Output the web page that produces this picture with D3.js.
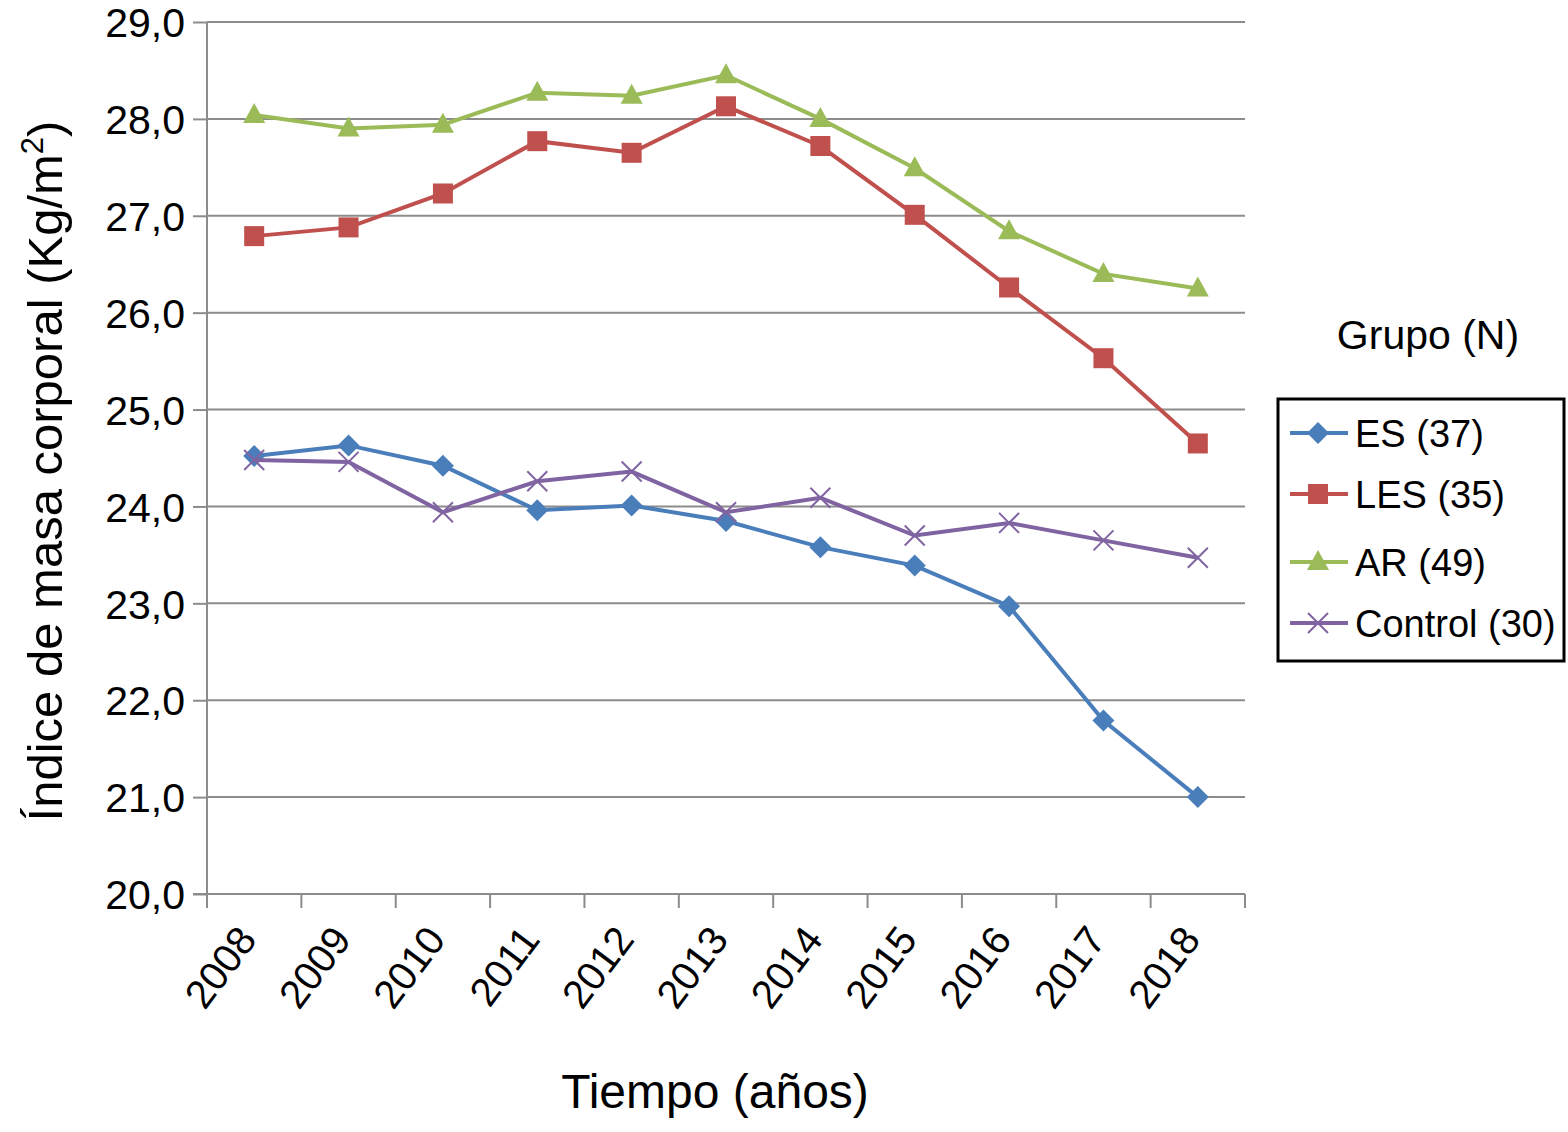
<!DOCTYPE html>
<html lang="es">
<head>
<meta charset="UTF-8">
<title>Índice de masa corporal</title>
<script src="https://d3js.org/d3.v7.min.js"></script>
<style>
    body { margin: 0; background: #fff; }
    svg { font-family: "Liberation Sans", Arial, sans-serif; }
</style>
</head>
<body>
<div id="chart"></div>
<script>
// datos
var years = ["2008", "2009", "2010", "2011", "2012", "2013", "2014", "2015", "2016", "2017", "2018"];
var es      = [24.52, 24.63, 24.42, 23.96, 24.01, 23.85, 23.58, 23.39, 22.97, 21.79, 21.00];
var les     = [26.79, 26.88, 27.23, 27.77, 27.65, 28.13, 27.72, 27.01, 26.26, 25.53, 24.65];
var ar      = [28.04, 27.90, 27.94, 28.27, 28.24, 28.45, 28.00, 27.49, 26.84, 26.40, 26.25];
var control = [24.48, 24.46, 23.94, 24.26, 24.36, 23.94, 24.09, 23.70, 23.83, 23.65, 23.47];
var yTicks = [20, 21, 22, 23, 24, 25, 26, 27, 28, 29];

var series = [
    { name: "ES (37)", values: es, color: "#4a7ebb", marker: "diamond" },
    { name: "LES (35)", values: les, color: "#c0504d", marker: "square" },
    { name: "AR (49)", values: ar, color: "#9bbb59", marker: "triangle" },
    { name: "Control (30)", values: control, color: "#8064a2", marker: "cross" }
];

var width = 1568, height = 1132;
var plotLeft = 207, plotRight = 1245, plotTop = 22, plotBottom = 894;

var svg = d3.select("#chart").append("svg")
    .attr("width", width)
    .attr("height", height);

var x = d3.scaleBand().domain(years).range([plotLeft, plotRight]);
var y = d3.scaleLinear().domain([20, 29]).range([plotBottom, plotTop]);

// rejilla
svg.append("g")
    .selectAll("line")
    .data(yTicks.slice(1))
    .enter()
    .append("line")
    .attr("x1", plotLeft)
    .attr("x2", plotRight)
    .attr("y1", function(d) { return y(d); })
    .attr("y2", function(d) { return y(d); })
    .attr("stroke", "#8c8c8c")
    .attr("stroke-width", 2);

// eje y
var yAxis = svg.append("g")
    .attr("transform", "translate(" + plotLeft + ",0)")
    .call(d3.axisLeft(y).tickValues(yTicks).tickSize(14).tickPadding(8)
        .tickFormat(function(d) { return d3.format(".1f")(d).replace(".", ","); }));
yAxis.selectAll("line, path").attr("stroke", "#8c8c8c").attr("stroke-width", 2);
yAxis.select(".domain").attr("d", "M0," + plotTop + "V" + plotBottom);
yAxis.selectAll("text").attr("font-size", 41).attr("fill", "#000")
    .attr("font-family", "Liberation Sans, Arial, sans-serif")
    .attr("dy", "0.36em");

// eje x
var xAxis = svg.append("g")
    .attr("transform", "translate(0," + plotBottom + ")")
    .call(d3.axisBottom(x).tickSize(0).tickPadding(0));
xAxis.select(".domain").attr("stroke", "#8c8c8c").attr("stroke-width", 2)
    .attr("d", "M" + (plotLeft - 14) + ",0H" + plotRight);
xAxis.selectAll(".tick line").remove();
xAxis.selectAll(".tick text")
    .attr("font-size", 40)
    .attr("fill", "#000")
    .attr("font-family", "Liberation Sans, Arial, sans-serif")
    .attr("text-anchor", "end")
    .attr("y", 0)
    .attr("dy", 0)
    .attr("transform", "translate(4,46) rotate(-53)");

// marcas de separación de categorías
var bounds = years.map(function(d) { return x(d); }).concat([plotRight]);
svg.append("g")
    .selectAll("line")
    .data(bounds)
    .enter()
    .append("line")
    .attr("x1", function(d) { return d; })
    .attr("x2", function(d) { return d; })
    .attr("y1", plotBottom)
    .attr("y2", plotBottom + 14)
    .attr("stroke", "#8c8c8c")
    .attr("stroke-width", 2);

function drawMarker(g, type, color) {
    if (type === "diamond") {
        g.append("path").attr("d", "M0,-11L11,0L0,11L-11,0Z").attr("fill", color);
    } else if (type === "square") {
        g.append("rect").attr("x", -10).attr("y", -10).attr("width", 20).attr("height", 20).attr("fill", color);
    } else if (type === "triangle") {
        g.append("path").attr("d", "M0,-12L11,8L-11,8Z").attr("fill", color);
    } else {
        g.append("path").attr("d", "M-10,-10L10,10M-10,10L10,-10")
            .attr("stroke", color).attr("stroke-width", 2).attr("fill", "none");
    }
}

var line = d3.line()
    .x(function(d, i) { return x(years[i]) + x.bandwidth() / 2; })
    .y(function(d) { return y(d); });

series.forEach(function(s) {
    svg.append("path")
        .datum(s.values)
        .attr("d", line)
        .attr("fill", "none")
        .attr("stroke", s.color)
        .attr("stroke-width", 4);

    svg.append("g")
        .selectAll("g")
        .data(s.values)
        .enter()
        .append("g")
        .attr("transform", function(d, i) {
            return "translate(" + (x(years[i]) + x.bandwidth() / 2) + "," + y(d) + ")";
        })
        .each(function() { drawMarker(d3.select(this), s.marker, s.color); });
});

// títulos de ejes
svg.append("text")
    .attr("transform", "translate(62,471) rotate(-90)")
    .attr("text-anchor", "middle")
    .attr("font-size", 49)
    .attr("fill", "#000")
    .html("Índice de masa corporal (Kg/m<tspan dy='-19' font-size='31'>2</tspan><tspan dy='19'>)</tspan>");

svg.append("text")
    .attr("x", 715)
    .attr("y", 1108)
    .attr("text-anchor", "middle")
    .attr("font-size", 48)
    .attr("fill", "#000")
    .text("Tiempo (años)");

// leyenda
svg.append("text")
    .attr("x", 1428)
    .attr("y", 349)
    .attr("text-anchor", "middle")
    .attr("font-size", 41)
    .attr("fill", "#000")
    .text("Grupo (N)");

svg.append("rect")
    .attr("x", 1278)
    .attr("y", 399)
    .attr("width", 286)
    .attr("height", 262)
    .attr("fill", "#fff")
    .attr("stroke", "#000")
    .attr("stroke-width", 3);

var legendY = [433, 494, 562, 623];
var legend = svg.append("g")
    .selectAll("g")
    .data(series)
    .enter()
    .append("g")
    .attr("transform", function(d, i) { return "translate(0," + legendY[i] + ")"; });

legend.append("line")
    .attr("x1", 1290)
    .attr("x2", 1348)
    .attr("stroke", function(d) { return d.color; })
    .attr("stroke-width", 4);

legend.append("g")
    .attr("transform", "translate(1318,0)")
    .each(function(d) { drawMarker(d3.select(this), d.marker, d.color); });

legend.append("text")
    .attr("x", 1355)
    .attr("dy", "0.36em")
    .attr("font-size", 38)
    .attr("fill", "#000")
    .text(function(d) { return d.name; });
</script>
</body>
</html>
